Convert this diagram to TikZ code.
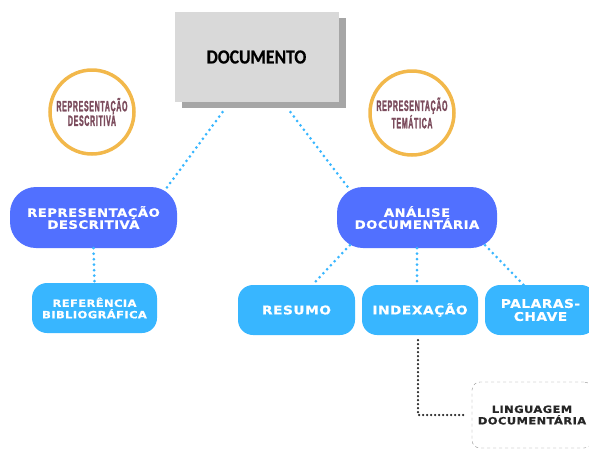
\documentclass[tikz,border=0pt]{standalone}
\usepackage{fontspec}
\usepackage{tikz}
\usetikzlibrary{positioning, shadows}

\newfontfamily\docfont{Carlito Bold}[FakeStretch=0.88, FakeBold=0.5]
\newfontfamily\pillfont{DejaVu Sans Bold}[FakeStretch=1.15,
  FakeBold=0.6, LetterSpace=4]
\newfontfamily\circfont{Liberation Sans Bold}[FakeStretch=0.46,
  FakeBold=1.5, LetterSpace=5]

\definecolor{royal}{HTML}{5170FF}
\definecolor{sky}{HTML}{38B6FF}
\definecolor{ring}{HTML}{F2B84B}
\definecolor{wine}{HTML}{7B4B5C}
\definecolor{paper}{HTML}{D9D9D9}
\definecolor{shade}{HTML}{A6A6A6}

\begin{document}
\begin{tikzpicture}[
  x = 1pt, y = -1pt,
  root/.style = {
    fill = paper,
    minimum width = 164pt,
    minimum height = 90pt,
    font = \docfont\fontsize{20}{22}\selectfont,
    drop shadow = {shadow xshift = 7pt, shadow yshift = -6pt,
      fill = shade, opacity = 1}
  },
  tag/.style = {
    circle,
    draw = ring,
    line width = 3.5pt,
    fill = white,
    minimum size = 84pt,
    inner sep = 0pt,
    align = center,
    text = wine,
    font = \circfont\fontsize{15}{13.5}\selectfont
  },
  pill/.style = {
    fill = royal,
    rounded corners = 26pt,
    minimum height = 61pt,
    inner sep = 0pt,
    align = center,
    text = white,
    font = \pillfont\fontsize{11.5}{12}\selectfont
  },
  leaf/.style = {
    fill = sky,
    rounded corners = 15pt,
    minimum height = 50pt,
    inner sep = 0pt,
    align = center,
    text = white,
    font = \pillfont\fontsize{12}{13}\selectfont
  },
  link/.style = {
    sky,
    line width = 3pt,
    line cap = round,
    dash pattern = on 0pt off 5.5pt
  },
  darklink/.style = {
    black!85,
    line width = 2.5pt,
    line cap = round,
    dash pattern = on 0pt off 4pt
  },
  ]
  \useasboundingbox (0, 0) rectangle (589, 448);

  % Top node.
  \node[root] (doc) at (256.5, 57) {DOCUMENTO};

  % Circle tags.
  \node[tag] (tagD) at (92, 112) {REPRESENTAÇÃO\\DESCRITIVA};
  \node[tag] (tagT) at (412, 113) {REPRESENTAÇÃO\\TEMÁTICA};

  % Second level.
  \node[pill, minimum width = 167pt] (descr) at (93.5, 217.5)
    {REPRESENTAÇÃO\\DESCRITIVA};
  \node[pill, minimum width = 160pt] (analise) at (417, 217.5)
    {ANÁLISE\\DOCUMENTÁRIA};

  % Third level.
  \node[leaf, minimum width = 125pt,
    font = \pillfont\fontsize{10}{11.5}\selectfont] (ref) at (94.5, 308)
    {REFERÊNCIA\\BIBLIOGRÁFICA};
  \node[leaf, minimum width = 117pt] (resumo) at (296.5, 310) {RESUMO};
  \node[leaf, minimum width = 116pt] (index) at (420, 310) {INDEXAÇÃO};
  \node[leaf, minimum width = 111pt] (chave) at (540.5, 310)
    {PALARAS-\\CHAVE};

  % Dashed box.
  \node[draw = black!45, dashed, rounded corners = 8pt, fill = white,
    minimum width = 120pt, minimum height = 66pt, inner sep = 0pt,
    align = center, text = black!85,
    font = \pillfont\fontsize{10}{11.5}\selectfont] (ling) at (532, 415)
    {LINGUAGEM\\DOCUMENTÁRIA};

  % Connections.
  \draw[link] ([xshift=-34pt, yshift=-10pt]doc.south)
    -- ([xshift=-12pt, yshift=-3pt]descr.north east);
  \draw[link] ([xshift=34pt, yshift=-10pt]doc.south)
    -- ([xshift=13pt, yshift=-3pt]analise.north west);
  \draw[link] (descr.south) -- (ref.north);
  \draw[link] ([xshift=13pt, yshift=3pt]analise.south west)
    -- ([xshift=16pt]resumo.north);
  \draw[link] (analise.south) -- (analise.south |- index.north);
  \draw[link] ([xshift=-12pt, yshift=3pt]analise.south east)
    -- ([xshift=-17pt]chave.north);
  \draw[darklink, shorten < = 5pt, shorten > = 5pt]
    ([xshift=-2pt]index.south) |- (ling.west);
\end{tikzpicture}
\end{document}
